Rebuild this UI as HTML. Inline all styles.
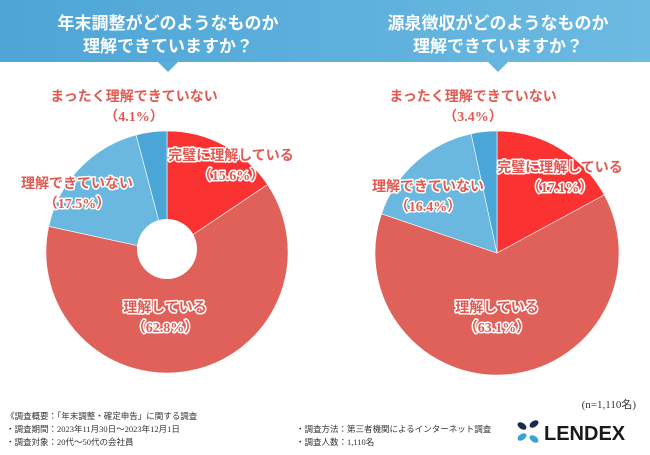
<!DOCTYPE html>
<html><head><meta charset="utf-8">
<style>
html,body{margin:0;padding:0;background:#fff;}
body{width:650px;height:450px;overflow:hidden;font-family:"Liberation Sans","Noto Sans CJK JP",sans-serif;}
svg text{font-family:"Liberation Serif","Noto Sans CJK JP",sans-serif;}
</style></head>
<body>
<svg id="chart" width="650" height="450" viewBox="0 0 650 450">
<defs>
<linearGradient id="hg" x1="0" x2="1" y1="0" y2="0">
<stop offset="0" stop-color="#4ea5d6"/><stop offset="1" stop-color="#6cbae2"/>
</linearGradient>
</defs>
<g>
<rect x="0" y="0" width="650" height="62" fill="url(#hg)"/>
<polygon points="158,62 178,62 168,72" fill="#5aaedb"/>
<polygon points="488,62 508,62 498,72" fill="#64b5df"/>
</g>
<g fill="#fff" font-size="17" font-weight="bold" text-anchor="middle">
<text x="168" y="29">年末調整がどのようなものか</text>
<text x="168" y="52">理解できていますか？</text>
<text x="498" y="29">源泉徴収がどのようなものか</text>
<text x="498" y="52">理解できていますか？</text>
</g>
<g id="pies"></g>
<g font-size="8.5" fill="#333" style="font-family:'Liberation Sans','Noto Sans CJK JP',sans-serif">
<text x="6" y="419">《調査概要：「年末調整・確定申告」に関する調査</text>
<text x="6" y="432">・調査期間：2023年11月30日～2023年12月1日</text>
<text x="6" y="445">・調査対象：20代～50代の会社員</text>
<text x="296" y="432">・調査方法：第三者機関によるインターネット調査</text>
<text x="296" y="445">・調査人数：1,110名</text>
</g>
<text x="636" y="408" font-size="11" fill="#333" text-anchor="end">(n=1,110名)</text>
<g>
<ellipse cx="522" cy="426" rx="5" ry="3" fill="#1a2a4a" transform="rotate(35 522 426)"/>
<ellipse cx="534" cy="424" rx="5" ry="3" fill="#1a2a4a" transform="rotate(-35 534 424)"/>
<ellipse cx="522" cy="437" rx="5" ry="3" fill="#3aa0d8" transform="rotate(-35 522 437)"/>
<ellipse cx="534" cy="439" rx="5" ry="3" fill="#3aa0d8" transform="rotate(35 534 439)"/>
<text x="544" y="440" font-size="20" font-weight="bold" fill="#1a1a1a" style="font-family:'Liberation Sans',sans-serif">LENDEX</text>
</g>
</svg>
<script>
const categories = ["完璧に理解している","理解している","理解できていない","まったく理解できていない"];
const leftValues = [15.6, 62.8, 17.5, 4.1];
const rightValues = [17.1, 63.1, 16.4, 3.4];
const sliceColors = ["#fa3232","#e0605a","#6ab8e0","#4ba6d8"];

const NS="http://www.w3.org/2000/svg";
const pies=document.getElementById('pies');
function mk(t,a){const e=document.createElementNS(NS,t);for(const k in a)e.setAttribute(k,a[k]);return e;}
function pie(cx,cy,r,vals,hole,labelPos,prefix){
  const tot=vals.reduce((a,b)=>a+b,0);
  let a0=-Math.PI/2;
  const g=mk('g',{});
  
  
  vals.forEach((v,i)=>{
    const a1=a0+v/tot*Math.PI*2;
    const large=(a1-a0)>Math.PI?1:0;
    const x0=cx+r*Math.cos(a0),y0=cy+r*Math.sin(a0),x1=cx+r*Math.cos(a1),y1=cy+r*Math.sin(a1);
    const p=mk('path',{d:`M${cx},${cy}L${x0},${y0}A${r},${r} 0 ${large} 1 ${x1},${y1}Z`,fill:sliceColors[i],stroke:'#fff','stroke-width':'0.6'});
    
    
    g.appendChild(p);
    a0=a1;
  });
  if(hole){
    const c=mk('circle',{cx:hole[0],cy:hole[1],r:hole[2],fill:'#fff'});
    
    
    g.appendChild(c);
  }
  vals.forEach((v,i)=>{
    const [lx,ly]=labelPos[i];
    [[categories[i],ly],['（'+v.toFixed(1)+'%）',ly+20]].forEach((t,j)=>{
      const tx=mk('text',{x:lx,y:t[1],'text-anchor':'middle','font-size':'14','font-weight':'bold',fill:'#e05a52',stroke:'#fff','stroke-width':'3','paint-order':'stroke','stroke-linejoin':'round'});
      tx.textContent=t[0];
      
      
      g.appendChild(tx);
    });
  });
  pies.appendChild(g);
}
pie(167,252,121,leftValues,[167,249,30],[[231,160],[165,312],[77,188],[134,101]],'left');
pie(497,253,122,rightValues,null,[[560,172],[497,312],[428,191],[473,101]],'right');
</script>
</body></html>
